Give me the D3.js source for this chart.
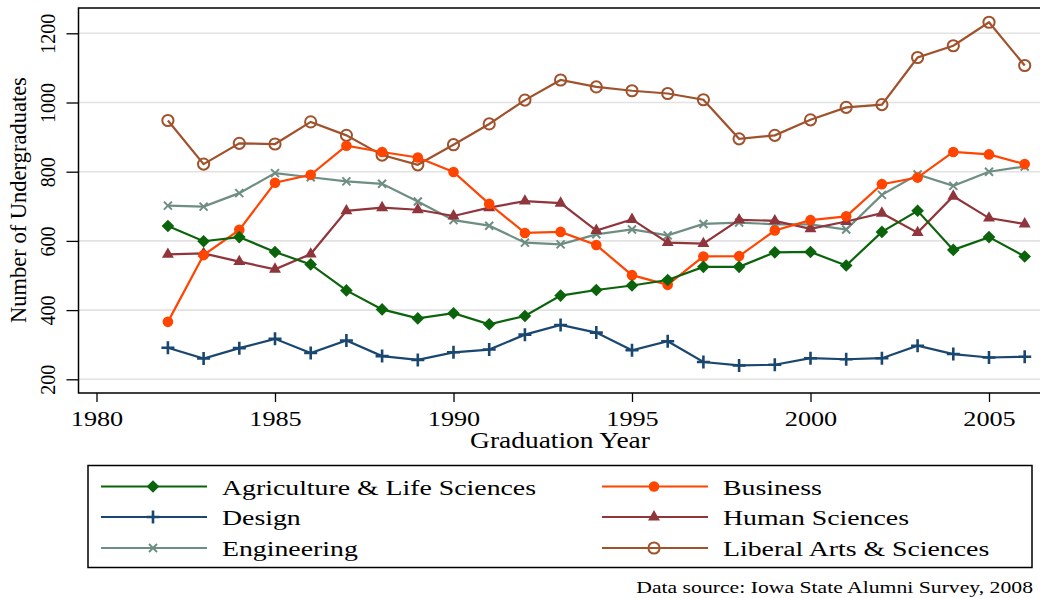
<!DOCTYPE html>
<html>

<head>
    <meta charset="utf-8">
    <script src="https://d3js.org/d3.v7.min.js"></script>
    <style>
        body { margin: 0; background: #fff; }
        text { font-family: "Liberation Serif", "Times New Roman", serif; fill: #000; }
    </style>
</head>

<body>
    <script>
        // graduation years
        const years = [1982, 1983, 1984, 1985, 1986, 1987, 1988, 1989, 1990, 1991, 1992, 1993,
            1994, 1995, 1996, 1997, 1998, 1999, 2000, 2001, 2002, 2003, 2004, 2005, 2006];

        // number of undergraduates per college
        const agriculture = [643, 599, 611, 568, 532, 457, 402, 376, 391, 359, 383, 442, 458, 471, 487, 525, 525, 567, 568, 529, 626, 687, 574, 611, 555];
        const business = [366, 559, 632, 768, 791, 875, 857, 841, 799, 707, 623, 626, 588, 501, 473, 555, 556, 630, 660, 671, 764, 783, 857, 850, 822];
        const design = [291, 260, 290, 317, 276, 312, 267, 256, 278, 286, 329, 357, 335, 284, 310, 250, 240, 242, 261, 258, 261, 297, 273, 263, 265];
        const humanSciences = [561, 564, 540, 518, 562, 687, 696, 690, 672, 696, 715, 709, 630, 662, 595, 592, 661, 658, 635, 656, 680, 624, 729, 666, 649];
        const engineering = [702, 699, 738, 796, 784, 772, 765, 714, 660, 644, 595, 590, 619, 633, 616, 649, 653, 648, 648, 633, 733, 792, 759, 800, 815];
        const liberalArts = [948, 822, 882, 880, 944, 905, 848, 820, 878, 938, 1007, 1065, 1045, 1034, 1026, 1008, 895, 905, 950, 986, 994, 1130, 1164, 1232, 1107];

        // axis ticks
        const xTicks = [1980, 1985, 1990, 1995, 2000, 2005];
        const yTicks = [200, 400, 600, 800, 1000, 1200];

        const series = [
            { name: 'Agriculture & Life Sciences', values: agriculture, color: '#0b640b', marker: 'diamond' },
            { name: 'Business', values: business, color: '#ff4500', marker: 'dot' },
            { name: 'Design', values: design, color: '#1a476f', marker: 'plus' },
            { name: 'Human Sciences', values: humanSciences, color: '#90353b', marker: 'triangle' },
            { name: 'Engineering', values: engineering, color: '#6e8e84', marker: 'x' },
            { name: 'Liberal Arts & Sciences', values: liberalArts, color: '#a0522d', marker: 'circle' }
        ];

        const width = 1040, height = 598;
        const plotLeft = 78.5, plotTop = 8, plotBottom = 393;

        const svg = d3.select('body').append('svg')
            .attr('width', width)
            .attr('height', height);

        const x = d3.scaleLinear().domain([1980, 2005]).range([96.5, 989]);
        const y = d3.scaleLinear().domain([200, 1200]).range([379.3, 33.3]);

        // grid lines
        svg.append('g').selectAll('line')
            .data(yTicks)
            .enter().append('line')
            .attr('x1', plotLeft).attr('x2', width)
            .attr('y1', d => y(d)).attr('y2', d => y(d))
            .attr('stroke', '#e2e2e2')
            .attr('stroke-width', 1.6);

        // frame (right side is cut off in the original)
        svg.append('path')
            .attr('d', `M${width},${plotTop}H${plotLeft}V${plotBottom}H${width}`)
            .attr('fill', 'none')
            .attr('stroke', '#000')
            .attr('stroke-width', 1.5);

        // x axis
        const xAxis = svg.append('g')
            .attr('transform', `translate(0,${plotBottom})`)
            .call(d3.axisBottom(x).tickValues(xTicks).tickSize(9).tickFormat(d3.format('d')));
        xAxis.select('.domain').remove();
        xAxis.selectAll('line').attr('stroke', '#000').attr('stroke-width', 1.3);
        xAxis.selectAll('text')
            .attr('y', 0).attr('dy', null)
            .attr('transform', 'translate(0,33) scale(1.25,1)')
            .style('font-size', '21px');

        // y axis
        const yAxis = svg.append('g')
            .attr('transform', `translate(${plotLeft},0)`)
            .call(d3.axisLeft(y).tickValues(yTicks).tickSize(12).tickFormat(d3.format('d')));
        yAxis.select('.domain').remove();
        yAxis.selectAll('line').attr('stroke', '#000').attr('stroke-width', 1.3);
        yAxis.selectAll('text')
            .attr('x', 0).attr('dy', null)
            .attr('text-anchor', 'middle')
            .attr('transform', 'translate(-23.5,0) rotate(-90)')
            .style('font-size', '20px');

        // axis titles
        svg.append('text')
            .attr('transform', 'translate(560,448) scale(1.22,1)')
            .attr('text-anchor', 'middle')
            .style('font-size', '22.5px')
            .text('Graduation Year');

        svg.append('text')
            .attr('transform', 'translate(25.5,200) rotate(-90)')
            .attr('text-anchor', 'middle')
            .style('font-size', '22.5px')
            .text('Number of Undergraduates');

        // marker drawing
        function drawMarker(g, type, color) {
            if (type === 'diamond') {
                g.append('path')
                    .attr('d', d3.symbol().type(d3.symbolSquare).size(80)())
                    .attr('transform', 'rotate(45)')
                    .attr('fill', color);
            } else if (type === 'dot') {
                g.append('circle').attr('r', 5.3).attr('fill', color);
            } else if (type === 'plus') {
                g.append('path').attr('d', 'M-6.5,0H6.5M0,-6.5V6.5')
                    .attr('stroke', color).attr('stroke-width', 2.6).attr('fill', 'none');
            } else if (type === 'triangle') {
                g.append('path')
                    .attr('d', d3.symbol().type(d3.symbolTriangle).size(62)())
                    .attr('fill', color);
            } else if (type === 'x') {
                g.append('path').attr('d', 'M-4,-4L4,4M-4,4L4,-4')
                    .attr('stroke', color).attr('stroke-width', 2).attr('fill', 'none');
            } else if (type === 'circle') {
                g.append('circle').attr('r', 5.6).attr('fill', 'none')
                    .attr('stroke', color).attr('stroke-width', 2);
            }
        }

        const line = d3.line()
            .x((d, i) => x(years[i]))
            .y(d => y(d));

        // lines and markers (draw in reverse so first series ends on top)
        const plot = svg.append('g');
        series.slice().reverse().forEach(s => {
            plot.append('path')
                .attr('d', line(s.values))
                .attr('fill', 'none')
                .attr('stroke', s.color)
                .attr('stroke-width', 2.2);
            s.values.forEach((v, i) => {
                const g = plot.append('g')
                    .attr('transform', `translate(${x(years[i])},${y(v)})`);
                drawMarker(g, s.marker, s.color);
            });
        });

        // legend
        svg.append('rect')
            .attr('x', 88).attr('y', 465.5)
            .attr('width', 944).attr('height', 102)
            .attr('fill', 'none')
            .attr('stroke', '#000')
            .attr('stroke-width', 1.5);

        const legendCols = [101, 602];
        const legendRows = [486.5, 517, 548];
        series.forEach((s, i) => {
            const lx = legendCols[i % 2], ly = legendRows[Math.floor(i / 2)];
            const g = svg.append('g');
            g.append('line')
                .attr('x1', lx).attr('x2', lx + 106)
                .attr('y1', ly).attr('y2', ly)
                .attr('stroke', s.color)
                .attr('stroke-width', 2.2);
            const m = g.append('g').attr('transform', `translate(${lx + 52},${ly})`);
            drawMarker(m, s.marker, s.color);
            g.append('text')
                .attr('transform', `translate(${lx + 121},${ly + 8}) scale(1.39,1)`)
                .style('font-size', '20px')
                .text(s.name);
        });

        // source note
        svg.append('text')
            .attr('transform', 'translate(1033,593) scale(1.24,1)')
            .attr('text-anchor', 'end')
            .style('font-size', '17.5px')
            .text('Data source: Iowa State Alumni Survey, 2008');
    </script>
</body>

</html>
